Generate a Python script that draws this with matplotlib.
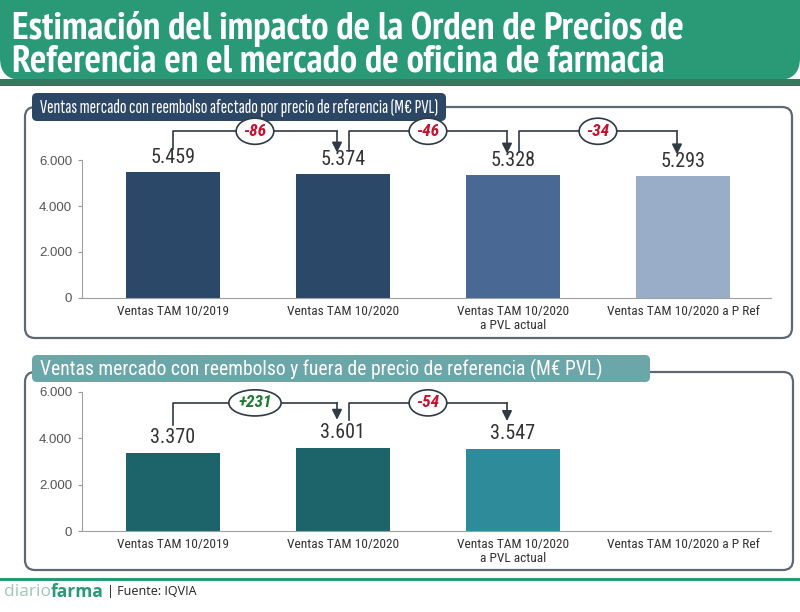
import matplotlib
matplotlib.use("Agg")
import matplotlib.pyplot as plt
from matplotlib.patches import FancyBboxPatch, Rectangle
from matplotlib.ticker import FuncFormatter

categories = ["Ventas TAM 10/2019", "Ventas TAM 10/2020",
              "Ventas TAM 10/2020\na PVL actual", "Ventas TAM 10/2020 a P Ref"]
top_values = [5459, 5374, 5328, 5293]
top_changes = [-86, -46, -34]
bottom_values = [3370, 3601, 3547]
bottom_changes = [231, -54]
yticks = [0, 2000, 4000, 6000]

top_colors = ["#2c4868", "#2c4868", "#4a6894", "#99adc8"]
bottom_colors = ["#1c6469", "#1c6469", "#2d8b9a"]

title_lines = ["Estimación del impacto de la Orden de Precios de",
               "Referencia en el mercado de oficina de farmacia"]
top_title = "Ventas mercado con reembolso afectado por precio de referencia (M€ PVL)"
bottom_title = "Ventas mercado con reembolso y fuera de precio de referencia (M€ PVL)"

NARROW = ["Roboto Condensed", "DejaVu Sans"]
XNARROW = ["Sofia Sans Extra Condensed", "Roboto Condensed", "DejaVu Sans"]
HEAD = ["PT Sans Narrow", "DejaVu Sans"]
SANS = ["Liberation Sans", "DejaVu Sans"]
FOOT = ["Open Sans", "DejaVu Sans"]

W, H = 800, 612
fig = plt.figure(figsize=(W / 100, H / 100), dpi=100)
renderer = fig.canvas.get_renderer()
bg = fig.add_axes([0, 0, 1, 1])
bg.set_xlim(0, W)
bg.set_ylim(H, 0)
bg.axis("off")


def fit_width(t, target_px):
    w = t.get_window_extent(renderer).width
    if w > 0:
        t.set_fontsize(t.get_fontsize() * target_px / w)


def right_edge(t):
    return bg.transData.inverted().transform(t.get_window_extent(renderer))[1][0]


# header
green = "#2a9a76"
bg.add_patch(FancyBboxPatch((0, -20), 800, 100, boxstyle="round,pad=0,rounding_size=22",
                            fc=green, ec="none"))
bg.add_patch(Rectangle((0, 79), 800, 7, fc="#3b7560", ec="none"))
h1 = bg.text(12, 39, title_lines[0], color="white", fontsize=28, fontweight="bold",
             family=HEAD, va="baseline", ha="left")
fit_width(h1, 671)
h2 = bg.text(12, 72, title_lines[1], color="white", fontsize=h1.get_fontsize(),
             fontweight="bold", family=HEAD, va="baseline", ha="left")


# panels
def panel(x0, y0, x1, y1):
    bg.add_patch(FancyBboxPatch((x0, y0), x1 - x0, y1 - y0,
                                boxstyle="round,pad=0,rounding_size=10",
                                fc="none", ec="#5f6873", lw=1.6))


def tab(x0, y0, x1, y1, color, text, fam, text_w):
    bg.add_patch(FancyBboxPatch((x0, y0), x1 - x0, y1 - y0,
                                boxstyle="round,pad=0,rounding_size=5",
                                fc=color, ec="none"))
    t = bg.text(x0 + 8, (y0 + y1) / 2 + 1, text, color="white", fontsize=14,
                family=fam, va="center", ha="left")
    fit_width(t, text_w)


panel(25, 107, 792, 338)
tab(32, 93, 446, 121, "#2c4766", top_title, XNARROW, 398)
panel(25, 372, 793, 570)
tab(32, 355, 650, 382, "#6ba6a9", bottom_title, NARROW, 567)

# footer
bg.plot([0, 800], [579, 579], color=green, lw=2.2)
t1 = bg.text(4, 592, "diario", color="#a3c6b8", fontsize=12.5, family=FOOT,
             va="center", ha="left")
t2 = bg.text(right_edge(t1), 592, "farma", color=green, fontsize=12.5, fontweight="bold",
             family=FOOT, va="center", ha="left")
bg.text(right_edge(t2) + 3, 592, "| Fuente: IQVIA", color="#222222", fontsize=9, family=FOOT,
        va="center", ha="left")


def fmt(v, _=None):
    return f"{int(v):,}".replace(",", ".")


def chart(rect, values, colors, changes, bracket_y, start_off, end_off):
    ax = fig.add_axes(rect)
    ax.set_facecolor("none")
    x = list(range(len(values)))
    ax.bar(x, values, width=0.55, color=colors, zorder=2)
    ax.set_xlim(-0.535, 3.518)
    ax.set_ylim(0, 6000)
    ax.set_yticks(yticks)
    ax.yaxis.set_major_formatter(FuncFormatter(fmt))
    ax.set_xticks(range(len(categories)))
    ax.set_xticklabels(categories, family=NARROW, fontsize=9.6, color="#333333",
                       linespacing=1.1)
    for lab in ax.get_yticklabels():
        lab.set_family(SANS)
        lab.set_fontsize(9.5)
        lab.set_color("#555555")
    ax.tick_params(axis="x", length=0, pad=5)
    ax.tick_params(axis="y", length=3, color="#999999", pad=4)
    for s in ["top", "right"]:
        ax.spines[s].set_visible(False)
    ax.spines["left"].set_color("#a0a0a0")
    ax.spines["bottom"].set_color("#a0a0a0")
    for i, v in enumerate(values):
        ax.annotate(fmt(v), (i, v), xytext=(0, 4), textcoords="offset points",
                    ha="center", va="bottom", fontsize=14.5, family=NARROW,
                    color="#333333", annotation_clip=False)
    for i, c in enumerate(changes):
        xs = i + (0.0 if i == 0 else 0.035)
        xe = i + 1 - 0.035
        ys = values[i] + start_off
        ye = values[i + 1] + end_off
        ax.plot([xs, xs, xe], [ys, bracket_y, bracket_y], color="#2f3a45", lw=1.2,
                clip_on=False, zorder=3)
        ax.annotate("", xy=(xe, ye), xytext=(xe, bracket_y),
                    arrowprops=dict(arrowstyle="-|>,head_length=0.6,head_width=0.3",
                                    color="#2f3a45", lw=1.2, shrinkA=0, shrinkB=0),
                    annotation_clip=False)
        col = "#c8102e" if c < 0 else "#1d7a34"
        txt = f"{c:+d}" if c > 0 else f"{c}"
        ax.text((xs + xe) / 2, bracket_y, txt, ha="center", va="center",
                fontsize=12.5, fontweight="bold", style="italic", family=NARROW,
                color=col, zorder=5, clip_on=False,
                bbox=dict(boxstyle="ellipse,pad=0.1", fc="white", ec="#2f3a45", lw=1.2))
    return ax


chart([82 / W, (H - 298) / H, (771 - 82) / W, 138 / H], top_values, top_colors,
      top_changes, 7250, 1000, 950)
chart([82 / W, (H - 531) / H, (771 - 82) / W, 139 / H], bottom_values, bottom_colors,
      bottom_changes, 5530, 1200, 1200)

fig.savefig("out.png", dpi=100)
